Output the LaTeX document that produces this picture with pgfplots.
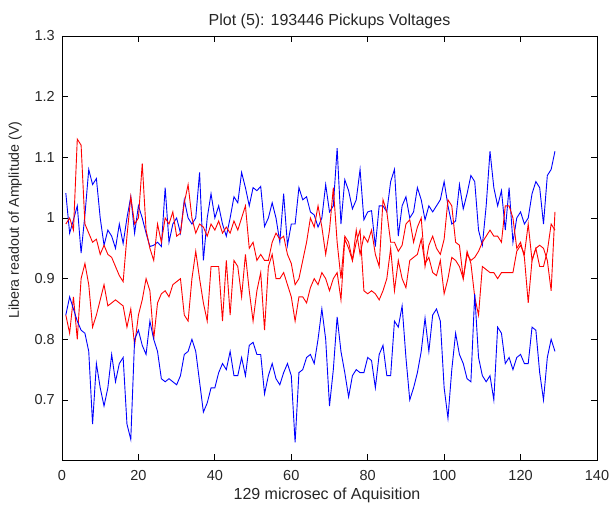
\documentclass[border=0pt]{standalone}
\usepackage{fontspec}
\setmainfont{Liberation Sans}
\usepackage{pgfplots}
\usepackage{pgfplotstable}
\pgfplotsset{compat=1.18}
\pgfplotstableread{
x b1 r1 r2 b2
1 1.041 0.99 0.84 0.84
2 0.975 1.0 0.81 0.87
3 0.997 0.98 0.87 0.85
4 1.02 1.13 0.8 0.83
5 0.942 1.12 0.9 0.815
6 1.005 0.99 0.925 0.81
7 1.08 0.975 0.89 0.78
8 1.055 0.96 0.82 0.66
9 1.065 0.965 0.84 0.76
10 1.0 0.94 0.865 0.72
11 0.955 0.955 0.89 0.69
12 0.98 0.94 0.855 0.72
13 0.97 0.935 0.86 0.775
14 0.95 0.92 0.865 0.73
15 0.99 0.905 0.86 0.76
16 0.958 0.895 0.855 0.77
17 1.0 0.97 0.82 0.66
18 1.035 1.035 0.85 0.635
19 0.975 0.99 0.79 0.8
20 1.02 1.0 0.84 0.815
21 1.0 1.09 0.865 0.79
22 0.975 0.98 0.9 0.775
23 0.953 0.95 0.88 0.83
24 0.955 0.93 0.8 0.8
25 0.96 0.99 0.86 0.78
26 0.953 0.96 0.875 0.735
27 1.05 1.0 0.88 0.73
28 0.96 0.99 0.87 0.735
29 0.99 1.01 0.89 0.73
30 1.0 0.97 0.895 0.725
31 0.975 0.975 0.9 0.74
32 1.03 1.025 0.84 0.775
33 1.0 1.055 0.83 0.78
34 0.99 1.0 0.9 0.8
35 1.0 0.975 0.945 0.78
36 1.075 0.99 0.9 0.73
37 0.93 0.985 0.86 0.68
38 1.0 0.97 0.83 0.695
39 1.04 0.99 0.92 0.72
40 1.0 0.98 0.92 0.72
41 1.02 0.995 0.92 0.745
42 0.99 0.975 0.83 0.76
43 0.97 0.985 0.93 0.75
44 1.0 0.975 0.84 0.78
45 1.035 0.995 0.93 0.74
46 1.025 0.98 0.92 0.74
47 1.075 1.0 0.87 0.77
48 1.05 1.02 0.94 0.74
49 1.02 0.95 0.88 0.79
50 1.05 0.96 0.83 0.795
51 1.045 0.93 0.88 0.775
52 1.052 0.94 0.91 0.775
53 0.986 0.93 0.815 0.71
54 1.0 0.93 0.92 0.74
55 1.025 0.96 0.94 0.76
56 1.0 0.975 0.9 0.735
57 0.96 0.965 0.9 0.725
58 1.04 0.97 0.91 0.745
59 0.955 0.94 0.89 0.76
60 0.99 0.925 0.87 0.74
61 0.99 0.89 0.83 0.63
62 1.05 0.9 0.87 0.745
63 1.03 0.93 0.87 0.75
64 1.035 0.96 0.86 0.77
65 1.01 1.0 0.885 0.775
66 1.005 0.985 0.9 0.76
67 0.985 1.02 0.89 0.8
68 1.0 0.985 0.91 0.85
69 1.055 0.94 0.9 0.8
70 1.01 0.98 0.88 0.69
71 1.02 1.05 0.9 0.75
72 1.115 0.96 0.91 0.837
73 0.99 0.9 0.865 0.78
74 1.063 0.97 0.965 0.745
75 1.045 0.96 0.95 0.705
76 1.015 0.93 0.93 0.74
77 1.03 0.98 0.96 0.75
78 1.08 0.94 0.98 0.745
79 0.997 0.97 0.88 0.745
80 1.01 0.96 0.875 0.77
81 1.012 0.98 0.88 0.765
82 0.953 0.94 0.875 0.72
83 1.02 0.92 0.865 0.775
84 1.02 1.03 0.88 0.79
85 1.01 1.01 0.9 0.74
86 1.06 0.96 0.95 0.74
87 1.08 0.96 0.88 0.83
88 0.97 0.945 0.93 0.82
89 1.02 0.955 0.9 0.855
90 1.035 0.99 0.885 0.77
91 1.0 0.997 0.93 0.7
92 1.01 0.96 0.935 0.72
93 1.05 0.985 0.94 0.745
94 1.03 1.0 0.965 0.78
95 0.997 0.92 0.925 0.835
96 1.02 0.955 0.935 0.78
97 1.01 0.97 0.91 0.84
98 1.02 0.95 0.905 0.85
99 1.03 0.94 0.93 0.83
100 1.06 0.965 0.875 0.72
101 1.02 1.03 0.9 0.67
102 0.99 1.02 0.935 0.75
103 0.995 0.96 0.93 0.81
104 1.055 0.955 0.92 0.775
105 1.015 0.9 0.9 0.76
106 1.04 0.94 0.945 0.735
107 1.07 0.93 0.925 0.73
108 1.06 0.935 0.87 0.875
109 0.98 0.945 0.84 0.77
110 0.955 0.96 0.92 0.74
111 1.02 0.97 0.915 0.73
112 1.11 0.98 0.91 0.74
113 1.05 0.97 0.91 0.7
114 1.02 0.97 0.9 0.82
115 1.045 0.96 0.91 0.81
116 0.98 1.02 0.91 0.76
117 1.05 1.02 0.91 0.77
118 0.96 1.0 0.91 0.75
119 1.0 0.95 0.945 0.77
120 1.01 0.96 0.955 0.775
121 0.99 0.935 0.94 0.76
122 1.0 0.86 0.99 0.76
123 1.04 0.93 0.93 0.82
124 1.06 0.95 0.95 0.815
125 1.05 0.955 0.92 0.745
126 0.99 0.95 0.92 0.7
127 1.07 0.93 0.945 0.77
128 1.08 0.88 0.99 0.8
129 1.11 1.01 0.98 0.78
}\datatable
\begin{document}
\begin{tikzpicture}
\path[use as bounding box] (-62pt,-46pt) rectangle (548pt,460pt);
\begin{axis}[
  at={(0pt,0pt)}, anchor=south west,
  scale only axis, width=535pt, height=424pt,
  xmin=0, xmax=140, ymin=0.601, ymax=1.3,
  xtick={0,20,...,140},
  ytick={0.7,0.8,0.9,1,1.1,1.2,1.3},
  yticklabels={0.7,0.8,0.9,1,1.1,1.2,1.3},
  tick align=inside,
  major tick length=6pt,
  minor tick num=0,
  axis line style={black, line width=0.8pt},
  every tick/.style={black, line width=0.8pt},
  /pgf/number format/assume math mode=true,
  ticklabel style={font=\fontsize{14.5}{16}\selectfont, text=black!85},
  xticklabel style={anchor=north, inner sep=0pt, yshift=-10pt},
  yticklabel style={anchor=east, inner sep=0pt, xshift=-7pt},
  clip=true,
]
\addplot[blue, line width=0.9pt] table[x=x, y=b1] {\datatable};
\addplot[red, line width=0.9pt] table[x=x, y=r1] {\datatable};
\addplot[red, line width=0.9pt] table[x=x, y=r2] {\datatable};
\addplot[blue, line width=0.9pt] table[x=x, y=b2] {\datatable};
\end{axis}
\node[anchor=base, font=\fontsize{16}{18}\selectfont, text=black!85] at (267.5pt,434pt) {Plot (5): 193446 Pickups Voltages};
\node[anchor=base, font=\fontsize{16}{18}\selectfont, text=black!85] at (265pt,-39pt) {129 microsec of Aquisition};
\node[anchor=base, rotate=90, font=\fontsize{14.2}{16}\selectfont, text=black!85] at (-43pt,240pt) {Libera readout of Amplitude (V)};
\end{tikzpicture}
\end{document}
